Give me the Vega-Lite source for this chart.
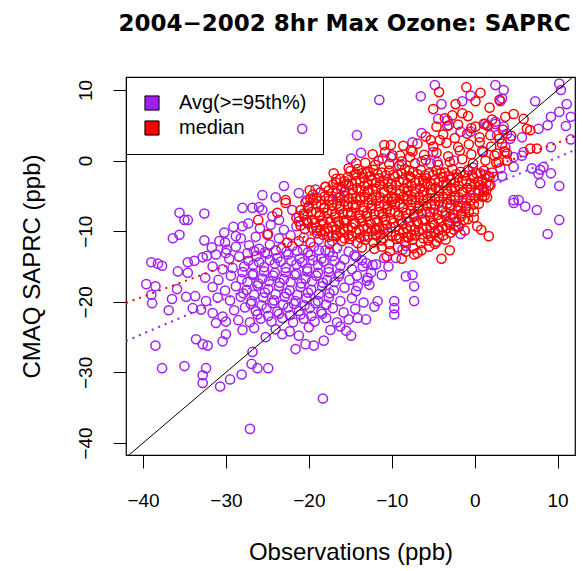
{
"$schema":"https://vega.github.io/schema/vega-lite/v6.json",
"autosize":{"type":"none"},
"padding":{"left":126,"top":77,"right":8,"bottom":116},
"width":449,"height":378,
"background":"white",
"title":{"text":"2004−2002 8hr Max Ozone: SAPRC","font":"DejaVu Sans","fontSize":23,"fontWeight":"bold","anchor":"middle","baseline":"alphabetic","offset":23,"dx":-6,"color":"black"},
"config":{"view":{"stroke":"black","strokeWidth":1.2}},
"resolve":{"scale":{"color":"independent","fill":"independent"}},
"datasets":{
"keys":[{"g":"p"},{"g":"r"}],
"pts":[
{"g":"p","o":-35.6,"m":-7.4},{"g":"p","o":-35.0,"m":-8.4},{"g":"p","o":-34.6,"m":-8.4},{"g":"p","o":-32.6,"m":-7.5},{"g":"p","o":-35.6,"m":-10.5},{"g":"p","o":-36.4,"m":-11.0},{"g":"p","o":-32.6,"m":-11.3},{"g":"p","o":-39.0,"m":-14.4},{"g":"p","o":-38.2,"m":-14.6},{"g":"p","o":-37.7,"m":-14.9},{"g":"p","o":-34.6,"m":-14.4},{"g":"p","o":-33.8,"m":-14.2},{"g":"p","o":-32.8,"m":-13.7},{"g":"p","o":-35.8,"m":-15.7},{"g":"p","o":-34.6,"m":-15.9},{"g":"p","o":-39.6,"m":-17.5},{"g":"p","o":-38.5,"m":-17.8},{"g":"p","o":-39.0,"m":-19.0},{"g":"p","o":-38.9,"m":-20.2},{"g":"p","o":-34.8,"m":-19.3},{"g":"p","o":-33.7,"m":-19.2},{"g":"p","o":-32.4,"m":-19.9},{"g":"p","o":-36.9,"m":-21.2},{"g":"p","o":-34.0,"m":-20.9},{"g":"p","o":-33.0,"m":-21.1},{"g":"p","o":-31.6,"m":-21.6},{"g":"p","o":-30.4,"m":-22.1},{"g":"p","o":-31.2,"m":-23.0},{"g":"p","o":-30.0,"m":-22.8},{"g":"p","o":-31.6,"m":-15.0},{"g":"p","o":-30.4,"m":-15.4},{"g":"p","o":-31.2,"m":-13.3},{"g":"p","o":-30.0,"m":-13.1},{"g":"p","o":-30.8,"m":-11.4},{"g":"p","o":-30.1,"m":-11.6},{"g":"p","o":-38.5,"m":-26.2},{"g":"p","o":-37.7,"m":-29.4},{"g":"p","o":-35.0,"m":-29.1},{"g":"p","o":-32.4,"m":-29.4},{"g":"p","o":-32.8,"m":-30.4},{"g":"p","o":-32.8,"m":-31.5},{"g":"p","o":-30.7,"m":-32.0},{"g":"p","o":-29.5,"m":-31.0},{"g":"p","o":-33.6,"m":-25.3},{"g":"p","o":-32.8,"m":-26.0},{"g":"p","o":-32.2,"m":-26.2},{"g":"p","o":-30.4,"m":-25.6},{"g":"p","o":-30.0,"m":-24.6},{"g":"p","o":-35.9,"m":-18.2},{"g":"p","o":-36.5,"m":-19.6},
{"g":"p","o":-28.0,"m":-6.7},{"g":"p","o":-26.8,"m":-6.7},{"g":"p","o":-26.0,"m":-6.6},{"g":"p","o":-28.0,"m":-9.3},{"g":"p","o":-28.8,"m":-10.7},{"g":"p","o":-28.2,"m":-11.0},{"g":"p","o":-28.8,"m":-12.2},{"g":"p","o":-28.4,"m":-13.6},{"g":"p","o":-27.4,"m":-13.1},{"g":"p","o":-29.2,"m":-15.2},{"g":"p","o":-27.8,"m":-15.0},{"g":"p","o":-25.6,"m":-7.0},{"g":"p","o":-24.4,"m":-7.9},{"g":"p","o":-23.6,"m":-8.4},{"g":"p","o":-22.0,"m":-7.0},{"g":"p","o":-21.2,"m":-7.9},{"g":"p","o":-25.6,"m":-4.9},{"g":"p","o":-24.0,"m":-5.2},{"g":"p","o":-23.0,"m":-3.6},{"g":"p","o":-21.2,"m":-4.6},{"g":"p","o":-19.2,"m":-4.1},{"g":"p","o":-20.2,"m":-5.6},{"g":"p","o":-26.8,"m":-27.1},{"g":"p","o":-26.9,"m":-28.8},{"g":"p","o":-26.2,"m":-29.4},{"g":"p","o":-24.9,"m":-29.4},{"g":"p","o":-27.1,"m":-38.0},{"g":"p","o":-28.1,"m":-30.3},{"g":"p","o":-25.2,"m":-25.0},{"g":"p","o":-23.2,"m":-24.6},{"g":"p","o":-21.2,"m":-24.8},{"g":"p","o":-21.6,"m":-26.7},{"g":"p","o":-20.4,"m":-26.0},{"g":"p","o":-19.4,"m":-26.2},{"g":"p","o":-18.2,"m":-25.5},{"g":"p","o":-18.3,"m":-33.7},{"g":"p","o":-15.5,"m":-24.1},{"g":"p","o":-14.9,"m":-24.8},{"g":"p","o":-16.0,"m":-3.7},{"g":"p","o":-16.4,"m":-5.2},{"g":"p","o":-20.8,"m":4.5},
{"g":"p","o":-29.1,"m":-9.4},{"g":"p","o":-27.3,"m":-8.9},{"g":"p","o":-25.9,"m":-9.6},{"g":"p","o":-24.6,"m":-9.1},{"g":"p","o":-23.0,"m":-9.8},{"g":"p","o":-21.5,"m":-9.3},{"g":"p","o":-20.2,"m":-8.7},{"g":"p","o":-19.0,"m":-9.9},
{"g":"p","o":-30.2,"m":-10.2},{"g":"p","o":-26.4,"m":-10.8},{"g":"p","o":-24.9,"m":-10.4},{"g":"p","o":-23.6,"m":-11.0},{"g":"p","o":-22.2,"m":-10.6},{"g":"p","o":-20.6,"m":-10.9},{"g":"p","o":-18.8,"m":-11.2},{"g":"p","o":-17.2,"m":-11.4},
{"g":"p","o":-31.7,"m":-12.3},{"g":"p","o":-29.9,"m":-12.6},{"g":"p","o":-27.2,"m":-12.0},{"g":"p","o":-26.0,"m":-12.5},{"g":"p","o":-24.7,"m":-11.9},{"g":"p","o":-23.3,"m":-12.4},{"g":"p","o":-22.0,"m":-12.1},{"g":"p","o":-20.7,"m":-12.6},{"g":"p","o":-19.4,"m":-12.2},{"g":"p","o":-18.0,"m":-12.7},{"g":"p","o":-16.6,"m":-12.4},{"g":"p","o":-15.2,"m":-12.9},
{"g":"p","o":-32.3,"m":-13.5},{"g":"p","o":-29.6,"m":-13.9},{"g":"p","o":-26.3,"m":-13.5},{"g":"p","o":-25.0,"m":-13.2},{"g":"p","o":-23.8,"m":-13.8},{"g":"p","o":-22.5,"m":-13.3},{"g":"p","o":-21.1,"m":-13.9},{"g":"p","o":-19.8,"m":-13.4},{"g":"p","o":-18.5,"m":-13.9},{"g":"p","o":-17.1,"m":-13.5},{"g":"p","o":-15.7,"m":-14.0},{"g":"p","o":-14.3,"m":-13.6},
{"g":"p","o":-26.7,"m":-14.8},{"g":"p","o":-25.4,"m":-15.1},{"g":"p","o":-24.1,"m":-14.6},{"g":"p","o":-22.8,"m":-15.2},{"g":"p","o":-21.5,"m":-14.7},{"g":"p","o":-20.2,"m":-15.3},{"g":"p","o":-18.9,"m":-14.8},{"g":"p","o":-17.6,"m":-15.3},{"g":"p","o":-16.2,"m":-14.9},{"g":"p","o":-14.8,"m":-15.4},{"g":"p","o":-13.5,"m":-15.0},
{"g":"p","o":-32.5,"m":-16.6},{"g":"p","o":-30.9,"m":-16.9},{"g":"p","o":-29.4,"m":-16.3},{"g":"p","o":-28.1,"m":-16.8},{"g":"p","o":-26.8,"m":-16.2},{"g":"p","o":-25.6,"m":-16.7},{"g":"p","o":-24.3,"m":-16.3},{"g":"p","o":-23.0,"m":-16.8},{"g":"p","o":-21.7,"m":-16.2},{"g":"p","o":-20.4,"m":-16.7},{"g":"p","o":-19.1,"m":-16.3},{"g":"p","o":-17.8,"m":-16.9},{"g":"p","o":-16.4,"m":-16.4},{"g":"p","o":-15.1,"m":-16.9},{"g":"p","o":-12.9,"m":-16.6},
{"g":"p","o":-31.6,"m":-17.9},{"g":"p","o":-30.1,"m":-18.4},{"g":"p","o":-28.8,"m":-17.8},{"g":"p","o":-27.5,"m":-18.3},{"g":"p","o":-26.2,"m":-17.7},{"g":"p","o":-24.9,"m":-18.2},{"g":"p","o":-23.6,"m":-17.8},{"g":"p","o":-22.3,"m":-18.4},{"g":"p","o":-21.0,"m":-17.9},{"g":"p","o":-19.7,"m":-18.3},{"g":"p","o":-18.4,"m":-17.8},{"g":"p","o":-17.0,"m":-18.4},{"g":"p","o":-15.7,"m":-18.0},{"g":"p","o":-14.3,"m":-18.5},
{"g":"p","o":-31.0,"m":-19.4},{"g":"p","o":-29.5,"m":-19.8},{"g":"p","o":-28.2,"m":-19.3},{"g":"p","o":-26.9,"m":-19.9},{"g":"p","o":-25.5,"m":-19.4},{"g":"p","o":-24.2,"m":-19.8},{"g":"p","o":-22.9,"m":-19.3},{"g":"p","o":-21.6,"m":-19.9},{"g":"p","o":-20.3,"m":-19.5},{"g":"p","o":-18.9,"m":-19.9},{"g":"p","o":-17.6,"m":-19.4},{"g":"p","o":-16.2,"m":-19.9},{"g":"p","o":-14.8,"m":-19.5},{"g":"p","o":-13.4,"m":-20.1},
{"g":"p","o":-29.0,"m":-21.2},{"g":"p","o":-27.7,"m":-20.8},{"g":"p","o":-26.4,"m":-21.3},{"g":"p","o":-25.1,"m":-20.9},{"g":"p","o":-23.8,"m":-21.4},{"g":"p","o":-22.5,"m":-20.8},{"g":"p","o":-21.2,"m":-21.3},{"g":"p","o":-19.9,"m":-20.9},{"g":"p","o":-18.5,"m":-21.4},{"g":"p","o":-17.1,"m":-20.9},{"g":"p","o":-15.8,"m":-21.5},{"g":"p","o":-14.4,"m":-21.0},
{"g":"p","o":-28.5,"m":-22.6},{"g":"p","o":-27.1,"m":-22.9},{"g":"p","o":-25.8,"m":-22.4},{"g":"p","o":-24.5,"m":-22.8},{"g":"p","o":-23.2,"m":-22.3},{"g":"p","o":-21.9,"m":-22.9},{"g":"p","o":-20.6,"m":-22.4},{"g":"p","o":-19.3,"m":-22.8},{"g":"p","o":-17.9,"m":-22.3},{"g":"p","o":-16.6,"m":-22.9},{"g":"p","o":-15.2,"m":-22.5},
{"g":"p","o":-28.0,"m":-24.0},{"g":"p","o":-26.6,"m":-23.7},{"g":"p","o":-24.0,"m":-23.9},{"g":"p","o":-22.3,"m":-24.2},{"g":"p","o":-20.0,"m":-23.6},{"g":"p","o":-17.4,"m":-24.0},{"g":"p","o":-16.2,"m":-23.5},
{"g":"p","o":-26.6,"m":-12.8},{"g":"p","o":-25.3,"m":-13.0},{"g":"p","o":-24.0,"m":-12.7},{"g":"p","o":-22.7,"m":-12.9},{"g":"p","o":-21.4,"m":-12.8},{"g":"p","o":-20.1,"m":-13.0},{"g":"p","o":-18.8,"m":-12.7},{"g":"p","o":-17.5,"m":-12.9},
{"g":"p","o":-27.3,"m":-14.2},{"g":"p","o":-26.0,"m":-14.4},{"g":"p","o":-24.7,"m":-14.1},{"g":"p","o":-23.4,"m":-14.3},{"g":"p","o":-22.1,"m":-14.2},{"g":"p","o":-20.8,"m":-14.4},{"g":"p","o":-19.5,"m":-14.1},{"g":"p","o":-18.2,"m":-14.3},{"g":"p","o":-16.9,"m":-14.2},
{"g":"p","o":-28.0,"m":-15.8},{"g":"p","o":-26.7,"m":-16.0},{"g":"p","o":-25.4,"m":-15.7},{"g":"p","o":-24.1,"m":-15.9},{"g":"p","o":-22.8,"m":-15.8},{"g":"p","o":-21.5,"m":-16.0},{"g":"p","o":-20.2,"m":-15.7},{"g":"p","o":-18.9,"m":-15.9},{"g":"p","o":-17.6,"m":-15.8},{"g":"p","o":-16.3,"m":-16.0},
{"g":"p","o":-27.4,"m":-17.2},{"g":"p","o":-26.1,"m":-17.4},{"g":"p","o":-24.8,"m":-17.1},{"g":"p","o":-23.5,"m":-17.3},{"g":"p","o":-22.2,"m":-17.2},{"g":"p","o":-20.9,"m":-17.4},{"g":"p","o":-19.6,"m":-17.1},{"g":"p","o":-18.3,"m":-17.3},{"g":"p","o":-16.9,"m":-17.2},
{"g":"p","o":-27.9,"m":-18.8},{"g":"p","o":-26.6,"m":-19.0},{"g":"p","o":-25.3,"m":-18.7},{"g":"p","o":-24.0,"m":-18.9},{"g":"p","o":-22.7,"m":-18.8},{"g":"p","o":-21.4,"m":-19.0},{"g":"p","o":-20.1,"m":-18.7},{"g":"p","o":-18.8,"m":-18.9},{"g":"p","o":-17.5,"m":-18.8},
{"g":"p","o":-27.0,"m":-20.3},{"g":"p","o":-25.7,"m":-20.5},{"g":"p","o":-24.4,"m":-20.2},{"g":"p","o":-23.1,"m":-20.4},{"g":"p","o":-21.8,"m":-20.3},{"g":"p","o":-20.5,"m":-20.5},{"g":"p","o":-19.2,"m":-20.2},{"g":"p","o":-17.9,"m":-20.4},
{"g":"p","o":-26.2,"m":-21.8},{"g":"p","o":-24.9,"m":-22.0},{"g":"p","o":-23.6,"m":-21.7},{"g":"p","o":-22.3,"m":-21.9},{"g":"p","o":-21.0,"m":-21.8},{"g":"p","o":-19.7,"m":-22.0},{"g":"p","o":-18.4,"m":-21.7},
{"g":"p","o":-8.3,"m":-16.4},{"g":"p","o":-7.5,"m":-16.2},{"g":"p","o":-7.3,"m":-17.8},{"g":"p","o":-7.3,"m":-19.9},{"g":"p","o":-9.7,"m":-19.9},{"g":"p","o":-9.7,"m":-20.9},{"g":"p","o":-9.7,"m":-21.8},{"g":"p","o":-12.1,"m":-20.7},{"g":"p","o":-11.7,"m":-19.9},{"g":"p","o":-14.1,"m":-22.3},{"g":"p","o":-13.1,"m":-22.5},{"g":"p","o":-12.7,"m":-17.6},{"g":"p","o":-14.1,"m":-17.8},{"g":"p","o":-12.5,"m":-15.9},{"g":"p","o":-11.9,"m":-14.7},{"g":"p","o":-13.1,"m":-14.5},{"g":"p","o":-9.5,"m":-13.8},{"g":"p","o":-10.9,"m":-13.8},{"g":"p","o":-8.7,"m":-12.6},{"g":"p","o":-8.3,"m":-12.1},{"g":"p","o":-14.5,"m":-13.4},{"g":"p","o":-13.6,"m":-14.1},{"g":"p","o":-12.3,"m":-14.8},{"g":"p","o":-14.2,"m":-16.3},{"g":"p","o":-13.0,"m":-17.0},{"g":"p","o":-11.2,"m":-16.2},{"g":"p","o":-10.4,"m":-15.0},{"g":"p","o":-4.3,"m":-9.8},{"g":"p","o":-4.9,"m":-10.3},{"g":"p","o":-2.3,"m":-9.3},{"g":"p","o":-1.9,"m":-9.4},{"g":"p","o":-1.7,"m":-10.4},{"g":"p","o":-2.9,"m":-8.1},{"g":"p","o":-1.7,"m":-6.7},{"g":"p","o":4.7,"m":-6.0},{"g":"p","o":6.1,"m":-6.5},{"g":"p","o":7.5,"m":-7.0},{"g":"p","o":10.2,"m":-8.4},{"g":"p","o":8.8,"m":-10.4},
{"g":"p","o":-11.5,"m":8.6},{"g":"p","o":-6.5,"m":9.1},{"g":"p","o":-4.8,"m":10.7},{"g":"p","o":-4.0,"m":8.0},{"g":"p","o":-1.5,"m":8.4},{"g":"p","o":-0.5,"m":9.2},{"g":"p","o":2.5,"m":10.7},{"g":"p","o":3.5,"m":10.0},{"g":"p","o":3.1,"m":8.4},{"g":"p","o":3.3,"m":8.8},{"g":"p","o":7.3,"m":8.4},{"g":"p","o":10.2,"m":10.9},{"g":"p","o":10.4,"m":10.0},{"g":"p","o":11.1,"m":8.0},{"g":"p","o":10.2,"m":6.9},{"g":"p","o":9.2,"m":6.2},{"g":"p","o":11.6,"m":6.2},{"g":"p","o":8.8,"m":5.0},{"g":"p","o":7.7,"m":4.5},{"g":"p","o":11.0,"m":4.9},{"g":"p","o":5.7,"m":3.3},{"g":"p","o":9.2,"m":1.9},{"g":"p","o":11.6,"m":3.0},{"g":"p","o":-14.2,"m":3.6},{"g":"p","o":-6.4,"m":3.9},{"g":"p","o":-4.4,"m":5.9},{"g":"p","o":-3.3,"m":5.7},{"g":"p","o":-3.1,"m":5.0},{"g":"p","o":1.3,"m":5.2},{"g":"p","o":2.5,"m":5.2},{"g":"p","o":3.5,"m":4.8},{"g":"p","o":2.7,"m":3.6},{"g":"p","o":3.9,"m":3.8},{"g":"p","o":4.3,"m":3.1},{"g":"p","o":3.7,"m":1.9},{"g":"p","o":4.7,"m":0.5},{"g":"p","o":5.7,"m":0.7},{"g":"p","o":5.9,"m":1.2},{"g":"p","o":6.9,"m":-1.1},{"g":"p","o":7.9,"m":-1.3},{"g":"p","o":8.3,"m":-0.9},{"g":"p","o":7.7,"m":-1.9},{"g":"p","o":9.2,"m":-1.8},{"g":"p","o":7.9,"m":-3.2},{"g":"p","o":10.2,"m":-3.6},{"g":"p","o":4.7,"m":-5.6},{"g":"p","o":5.3,"m":-5.6},{"g":"p","o":2.3,"m":-2.3},{"g":"p","o":3.3,"m":-2.2},{"g":"p","o":4.7,"m":-0.9},{"g":"p","o":3.1,"m":-1.1},{"g":"p","o":-13.7,"m":1.1},{"g":"p","o":-14.9,"m":0.3},{"g":"p","o":-11.1,"m":0.3},{"g":"p","o":-10.1,"m":0.5},{"g":"p","o":-6.4,"m":-0.1},{"g":"p","o":-5.3,"m":-0.4},{"g":"p","o":-4.5,"m":-0.2},{"g":"p","o":-1.7,"m":4.1},{"g":"p","o":-0.5,"m":4.1},{"g":"p","o":1.5,"m":5.0},{"g":"p","o":2.5,"m":5.5},{"g":"p","o":-7.5,"m":2.6},{"g":"p","o":-5.0,"m":1.2},{"g":"p","o":-2.5,"m":0.0},{"g":"p","o":-0.2,"m":-1.0},{"g":"p","o":1.3,"m":-2.0},{"g":"p","o":-8.8,"m":-0.6},{"g":"p","o":-3.8,"m":-2.4},{"g":"p","o":0.9,"m":1.4},
{"g":"r","o":-22.8,"m":-6.0},{"g":"r","o":-23.8,"m":-7.4},{"g":"r","o":-26.1,"m":-8.4},{"g":"r","o":-25.0,"m":-10.5},{"g":"r","o":-22.6,"m":-11.6},{"g":"r","o":-21.2,"m":-11.4},{"g":"r","o":-19.8,"m":-11.6},{"g":"r","o":-18.3,"m":-10.5},{"g":"r","o":-16.7,"m":-10.7},{"g":"r","o":-22.8,"m":-5.6},{"g":"r","o":-18.0,"m":-3.7},{"g":"r","o":-16.7,"m":-2.6},{"g":"r","o":-15.5,"m":-3.3},{"g":"r","o":-15.2,"m":-1.1},{"g":"r","o":-19.8,"m":-5.4},{"g":"r","o":-0.1,"m":-8.1},{"g":"r","o":0.3,"m":-9.3},{"g":"r","o":0.8,"m":-9.8},{"g":"r","o":1.7,"m":-10.7},{"g":"r","o":-3.0,"m":-12.7},{"g":"r","o":-4.0,"m":-13.9},{"g":"r","o":-4.8,"m":-11.8},{"g":"r","o":-7.3,"m":-13.3},{"g":"r","o":-6.9,"m":-13.1},{"g":"r","o":-4.3,"m":9.7},{"g":"r","o":0.1,"m":8.4},{"g":"r","o":0.7,"m":9.6},{"g":"r","o":-2.7,"m":6.4},{"g":"r","o":-1.5,"m":6.7},{"g":"r","o":-3.3,"m":4.9},{"g":"r","o":4.7,"m":6.6},{"g":"r","o":5.9,"m":5.9},{"g":"r","o":6.3,"m":4.5},{"g":"r","o":6.7,"m":4.3},{"g":"r","o":6.7,"m":1.7},{"g":"r","o":7.5,"m":1.7},{"g":"r","o":-10.9,"m":2.2},{"g":"r","o":-10.1,"m":2.2},{"g":"r","o":-9.9,"m":0.75},{"g":"r","o":-7.7,"m":1.5},{"g":"r","o":-7.8,"m":0.5},{"g":"r","o":-5.3,"m":2.9},{"g":"r","o":-4.2,"m":2.9},{"g":"r","o":0.1,"m":4.8},{"g":"r","o":1.1,"m":5.2},{"g":"r","o":2.7,"m":1.0},{"g":"r","o":3.9,"m":1.0},{"g":"r","o":2.9,"m":-0.2},{"g":"r","o":3.9,"m":0.0},{"g":"r","o":0.7,"m":-3.5},{"g":"r","o":1.1,"m":-4.4},{"g":"r","o":1.9,"m":-3.5},{"g":"r","o":1.5,"m":-5.2},{"g":"r","o":-14.3,"m":-0.4},{"g":"r","o":-14.3,"m":-1.9},{"g":"r","o":-12.9,"m":-1.6},{"g":"r","o":-9.1,"m":-0.7},{"g":"r","o":-7.9,"m":-1.4},{"g":"r","o":-10.6,"m":-13.6},{"g":"r","o":-8.8,"m":-13.9},
{"g":"r","o":-12.1,"m":-12.5},{"g":"r","o":-11.2,"m":-12.2},{"g":"r","o":-10.2,"m":-12.8},{"g":"r","o":-9.3,"m":-12.3},{"g":"r","o":-8.3,"m":-12.9},{"g":"r","o":-7.4,"m":-12.4},{"g":"r","o":-6.4,"m":-12.7},{"g":"r","o":-5.5,"m":-12.2},
{"g":"r","o":-16.0,"m":-11.4},{"g":"r","o":-15.1,"m":-11.1},{"g":"r","o":-14.1,"m":-11.7},{"g":"r","o":-13.2,"m":-11.2},{"g":"r","o":-12.2,"m":-11.6},{"g":"r","o":-11.3,"m":-11.3},{"g":"r","o":-10.3,"m":-11.8},{"g":"r","o":-9.4,"m":-11.1},{"g":"r","o":-8.4,"m":-11.5},{"g":"r","o":-7.5,"m":-11.2},{"g":"r","o":-6.5,"m":-11.7},{"g":"r","o":-5.6,"m":-11.3},{"g":"r","o":-4.6,"m":-11.5},
{"g":"r","o":-19.0,"m":-10.3},{"g":"r","o":-18.1,"m":-10.0},{"g":"r","o":-17.1,"m":-10.6},{"g":"r","o":-16.2,"m":-10.1},{"g":"r","o":-15.2,"m":-10.5},{"g":"r","o":-14.3,"m":-10.2},{"g":"r","o":-13.3,"m":-10.7},{"g":"r","o":-12.4,"m":-10.0},{"g":"r","o":-11.4,"m":-10.4},{"g":"r","o":-10.5,"m":-10.1},{"g":"r","o":-9.5,"m":-10.6},{"g":"r","o":-8.6,"m":-10.2},{"g":"r","o":-7.6,"m":-10.5},{"g":"r","o":-6.7,"m":-10.0},{"g":"r","o":-5.7,"m":-10.4},{"g":"r","o":-4.8,"m":-10.1},{"g":"r","o":-3.8,"m":-10.6},{"g":"r","o":-2.9,"m":-10.2},
{"g":"r","o":-21.0,"m":-9.2},{"g":"r","o":-20.1,"m":-8.9},{"g":"r","o":-19.1,"m":-9.5},{"g":"r","o":-18.2,"m":-9.0},{"g":"r","o":-17.2,"m":-9.4},{"g":"r","o":-16.3,"m":-9.1},{"g":"r","o":-15.3,"m":-9.6},{"g":"r","o":-14.4,"m":-8.9},{"g":"r","o":-13.4,"m":-9.3},{"g":"r","o":-12.5,"m":-9.0},{"g":"r","o":-11.5,"m":-9.5},{"g":"r","o":-10.6,"m":-9.1},{"g":"r","o":-9.6,"m":-9.4},{"g":"r","o":-8.7,"m":-8.9},{"g":"r","o":-7.7,"m":-9.3},{"g":"r","o":-6.8,"m":-9.0},{"g":"r","o":-5.8,"m":-9.5},{"g":"r","o":-4.9,"m":-9.1},{"g":"r","o":-3.9,"m":-9.4},{"g":"r","o":-3.0,"m":-9.0},{"g":"r","o":-2.0,"m":-9.3},
{"g":"r","o":-21.5,"m":-8.1},{"g":"r","o":-20.6,"m":-7.8},{"g":"r","o":-19.6,"m":-8.4},{"g":"r","o":-18.7,"m":-7.9},{"g":"r","o":-17.7,"m":-8.3},{"g":"r","o":-16.8,"m":-8.0},{"g":"r","o":-15.8,"m":-8.5},{"g":"r","o":-14.9,"m":-7.8},{"g":"r","o":-13.9,"m":-8.2},{"g":"r","o":-13.0,"m":-7.9},{"g":"r","o":-12.0,"m":-8.4},{"g":"r","o":-11.1,"m":-8.0},{"g":"r","o":-10.1,"m":-8.3},{"g":"r","o":-9.2,"m":-7.8},{"g":"r","o":-8.2,"m":-8.2},{"g":"r","o":-7.3,"m":-7.9},{"g":"r","o":-6.3,"m":-8.4},{"g":"r","o":-5.4,"m":-8.0},{"g":"r","o":-4.4,"m":-8.3},{"g":"r","o":-3.5,"m":-7.8},{"g":"r","o":-2.5,"m":-8.2},{"g":"r","o":-1.6,"m":-7.9},{"g":"r","o":-0.8,"m":-8.3},
{"g":"r","o":-21.0,"m":-7.0},{"g":"r","o":-20.1,"m":-6.7},{"g":"r","o":-19.1,"m":-7.3},{"g":"r","o":-18.2,"m":-6.8},{"g":"r","o":-17.2,"m":-7.2},{"g":"r","o":-16.3,"m":-6.9},{"g":"r","o":-15.3,"m":-7.4},{"g":"r","o":-14.4,"m":-6.7},{"g":"r","o":-13.4,"m":-7.1},{"g":"r","o":-12.5,"m":-6.8},{"g":"r","o":-11.5,"m":-7.3},{"g":"r","o":-10.6,"m":-6.9},{"g":"r","o":-9.6,"m":-7.2},{"g":"r","o":-8.7,"m":-6.7},{"g":"r","o":-7.7,"m":-7.1},{"g":"r","o":-6.8,"m":-6.8},{"g":"r","o":-5.8,"m":-7.3},{"g":"r","o":-4.9,"m":-6.9},{"g":"r","o":-3.9,"m":-7.2},{"g":"r","o":-3.0,"m":-6.7},{"g":"r","o":-2.0,"m":-7.1},{"g":"r","o":-1.1,"m":-6.8},{"g":"r","o":-0.1,"m":-7.2},
{"g":"r","o":-20.4,"m":-5.9},{"g":"r","o":-19.5,"m":-5.6},{"g":"r","o":-18.5,"m":-6.2},{"g":"r","o":-17.6,"m":-5.7},{"g":"r","o":-16.6,"m":-6.1},{"g":"r","o":-15.7,"m":-5.8},{"g":"r","o":-14.7,"m":-6.3},{"g":"r","o":-13.8,"m":-5.6},{"g":"r","o":-12.8,"m":-6.0},{"g":"r","o":-11.9,"m":-5.7},{"g":"r","o":-10.9,"m":-6.2},{"g":"r","o":-10.0,"m":-5.8},{"g":"r","o":-9.0,"m":-6.1},{"g":"r","o":-8.1,"m":-5.6},{"g":"r","o":-7.1,"m":-6.0},{"g":"r","o":-6.2,"m":-5.7},{"g":"r","o":-5.2,"m":-6.2},{"g":"r","o":-4.3,"m":-5.8},{"g":"r","o":-3.3,"m":-6.1},{"g":"r","o":-2.4,"m":-5.6},{"g":"r","o":-1.4,"m":-6.0},{"g":"r","o":-0.5,"m":-5.7},{"g":"r","o":0.5,"m":-6.1},
{"g":"r","o":-19.5,"m":-4.8},{"g":"r","o":-18.6,"m":-4.5},{"g":"r","o":-17.6,"m":-5.1},{"g":"r","o":-16.7,"m":-4.6},{"g":"r","o":-15.7,"m":-5.0},{"g":"r","o":-14.8,"m":-4.7},{"g":"r","o":-13.8,"m":-5.2},{"g":"r","o":-12.9,"m":-4.5},{"g":"r","o":-11.9,"m":-4.9},{"g":"r","o":-11.0,"m":-4.6},{"g":"r","o":-10.0,"m":-5.1},{"g":"r","o":-9.1,"m":-4.7},{"g":"r","o":-8.1,"m":-5.0},{"g":"r","o":-7.2,"m":-4.5},{"g":"r","o":-6.2,"m":-4.9},{"g":"r","o":-5.3,"m":-4.6},{"g":"r","o":-4.3,"m":-5.1},{"g":"r","o":-3.4,"m":-4.7},{"g":"r","o":-2.4,"m":-5.0},{"g":"r","o":-1.5,"m":-4.5},{"g":"r","o":-0.5,"m":-4.9},{"g":"r","o":0.4,"m":-4.6},{"g":"r","o":1.2,"m":-5.0},
{"g":"r","o":-18.0,"m":-3.7},{"g":"r","o":-17.1,"m":-3.4},{"g":"r","o":-16.1,"m":-4.0},{"g":"r","o":-15.2,"m":-3.5},{"g":"r","o":-14.2,"m":-3.9},{"g":"r","o":-13.3,"m":-3.6},{"g":"r","o":-12.3,"m":-4.1},{"g":"r","o":-11.4,"m":-3.4},{"g":"r","o":-10.4,"m":-3.8},{"g":"r","o":-9.5,"m":-3.5},{"g":"r","o":-8.5,"m":-4.0},{"g":"r","o":-7.6,"m":-3.6},{"g":"r","o":-6.6,"m":-3.9},{"g":"r","o":-5.7,"m":-3.4},{"g":"r","o":-4.7,"m":-3.8},{"g":"r","o":-3.8,"m":-3.5},{"g":"r","o":-2.8,"m":-4.0},{"g":"r","o":-1.9,"m":-3.6},{"g":"r","o":-0.9,"m":-3.9},{"g":"r","o":0.0,"m":-3.4},{"g":"r","o":1.0,"m":-3.8},{"g":"r","o":1.7,"m":-3.5},
{"g":"r","o":-16.2,"m":-2.6},{"g":"r","o":-15.3,"m":-2.3},{"g":"r","o":-14.3,"m":-2.9},{"g":"r","o":-13.4,"m":-2.4},{"g":"r","o":-12.4,"m":-2.8},{"g":"r","o":-11.5,"m":-2.5},{"g":"r","o":-10.5,"m":-3.0},{"g":"r","o":-9.6,"m":-2.3},{"g":"r","o":-8.6,"m":-2.7},{"g":"r","o":-7.7,"m":-2.4},{"g":"r","o":-6.7,"m":-2.9},{"g":"r","o":-5.8,"m":-2.5},{"g":"r","o":-4.8,"m":-2.8},{"g":"r","o":-3.9,"m":-2.3},{"g":"r","o":-2.9,"m":-2.7},{"g":"r","o":-2.0,"m":-2.4},{"g":"r","o":-1.0,"m":-2.9},{"g":"r","o":-0.1,"m":-2.5},{"g":"r","o":0.9,"m":-2.8},{"g":"r","o":1.8,"m":-2.3},
{"g":"r","o":-15.0,"m":-1.5},{"g":"r","o":-14.1,"m":-1.2},{"g":"r","o":-13.1,"m":-1.8},{"g":"r","o":-12.2,"m":-1.3},{"g":"r","o":-11.2,"m":-1.7},{"g":"r","o":-10.3,"m":-1.4},{"g":"r","o":-9.3,"m":-1.9},{"g":"r","o":-8.4,"m":-1.2},{"g":"r","o":-7.4,"m":-1.6},{"g":"r","o":-6.5,"m":-1.3},{"g":"r","o":-5.5,"m":-1.8},{"g":"r","o":-4.6,"m":-1.4},{"g":"r","o":-3.6,"m":-1.7},{"g":"r","o":-2.7,"m":-1.2},{"g":"r","o":-1.7,"m":-1.6},{"g":"r","o":-0.8,"m":-1.3},{"g":"r","o":0.2,"m":-1.8},{"g":"r","o":1.1,"m":-1.4},{"g":"r","o":2.1,"m":-1.7},
{"g":"r","o":-17.6,"m":-10.8},{"g":"r","o":-16.7,"m":-10.6},{"g":"r","o":-15.7,"m":-11.0},{"g":"r","o":-14.8,"m":-10.7},{"g":"r","o":-13.8,"m":-10.9},{"g":"r","o":-12.9,"m":-10.8},{"g":"r","o":-11.9,"m":-10.6},{"g":"r","o":-11.0,"m":-11.0},{"g":"r","o":-10.0,"m":-10.7},{"g":"r","o":-9.1,"m":-10.9},{"g":"r","o":-8.1,"m":-10.8},{"g":"r","o":-7.2,"m":-10.6},{"g":"r","o":-6.2,"m":-11.0},{"g":"r","o":-5.3,"m":-10.7},{"g":"r","o":-4.3,"m":-10.9},
{"g":"r","o":-20.5,"m":-9.7},{"g":"r","o":-19.6,"m":-9.5},{"g":"r","o":-18.6,"m":-9.9},{"g":"r","o":-17.7,"m":-9.6},{"g":"r","o":-16.7,"m":-9.8},{"g":"r","o":-15.8,"m":-9.7},{"g":"r","o":-14.8,"m":-9.5},{"g":"r","o":-13.9,"m":-9.9},{"g":"r","o":-12.9,"m":-9.6},{"g":"r","o":-12.0,"m":-9.8},{"g":"r","o":-11.0,"m":-9.7},{"g":"r","o":-10.1,"m":-9.5},{"g":"r","o":-9.1,"m":-9.9},{"g":"r","o":-8.2,"m":-9.6},{"g":"r","o":-7.2,"m":-9.8},{"g":"r","o":-6.3,"m":-9.7},{"g":"r","o":-5.3,"m":-9.5},{"g":"r","o":-4.4,"m":-9.9},{"g":"r","o":-3.4,"m":-9.6},{"g":"r","o":-2.5,"m":-9.8},
{"g":"r","o":-21.2,"m":-8.6},{"g":"r","o":-20.3,"m":-8.4},{"g":"r","o":-19.3,"m":-8.8},{"g":"r","o":-18.4,"m":-8.5},{"g":"r","o":-17.4,"m":-8.7},{"g":"r","o":-16.5,"m":-8.6},{"g":"r","o":-15.5,"m":-8.4},{"g":"r","o":-14.6,"m":-8.8},{"g":"r","o":-13.6,"m":-8.5},{"g":"r","o":-12.7,"m":-8.7},{"g":"r","o":-11.7,"m":-8.6},{"g":"r","o":-10.8,"m":-8.4},{"g":"r","o":-9.8,"m":-8.8},{"g":"r","o":-8.9,"m":-8.5},{"g":"r","o":-7.9,"m":-8.7},{"g":"r","o":-7.0,"m":-8.6},{"g":"r","o":-6.0,"m":-8.4},{"g":"r","o":-5.1,"m":-8.8},{"g":"r","o":-4.1,"m":-8.5},{"g":"r","o":-3.2,"m":-8.7},{"g":"r","o":-2.2,"m":-8.6},{"g":"r","o":-1.3,"m":-8.4},
{"g":"r","o":-20.6,"m":-7.5},{"g":"r","o":-19.7,"m":-7.3},{"g":"r","o":-18.7,"m":-7.7},{"g":"r","o":-17.8,"m":-7.4},{"g":"r","o":-16.8,"m":-7.6},{"g":"r","o":-15.9,"m":-7.5},{"g":"r","o":-14.9,"m":-7.3},{"g":"r","o":-14.0,"m":-7.7},{"g":"r","o":-13.0,"m":-7.4},{"g":"r","o":-12.1,"m":-7.6},{"g":"r","o":-11.1,"m":-7.5},{"g":"r","o":-10.2,"m":-7.3},{"g":"r","o":-9.2,"m":-7.7},{"g":"r","o":-8.3,"m":-7.4},{"g":"r","o":-7.3,"m":-7.6},{"g":"r","o":-6.4,"m":-7.5},{"g":"r","o":-5.4,"m":-7.3},{"g":"r","o":-4.5,"m":-7.7},{"g":"r","o":-3.5,"m":-7.4},{"g":"r","o":-2.6,"m":-7.6},{"g":"r","o":-1.6,"m":-7.5},{"g":"r","o":-0.7,"m":-7.3},
{"g":"r","o":-20.0,"m":-6.4},{"g":"r","o":-19.1,"m":-6.2},{"g":"r","o":-18.1,"m":-6.6},{"g":"r","o":-17.2,"m":-6.3},{"g":"r","o":-16.2,"m":-6.5},{"g":"r","o":-15.3,"m":-6.4},{"g":"r","o":-14.3,"m":-6.2},{"g":"r","o":-13.4,"m":-6.6},{"g":"r","o":-12.4,"m":-6.3},{"g":"r","o":-11.5,"m":-6.5},{"g":"r","o":-10.5,"m":-6.4},{"g":"r","o":-9.6,"m":-6.2},{"g":"r","o":-8.6,"m":-6.6},{"g":"r","o":-7.7,"m":-6.3},{"g":"r","o":-6.7,"m":-6.5},{"g":"r","o":-5.8,"m":-6.4},{"g":"r","o":-4.8,"m":-6.2},{"g":"r","o":-3.9,"m":-6.6},{"g":"r","o":-2.9,"m":-6.3},{"g":"r","o":-2.0,"m":-6.5},{"g":"r","o":-1.0,"m":-6.4},{"g":"r","o":-0.1,"m":-6.2},
{"g":"r","o":-19.0,"m":-5.3},{"g":"r","o":-18.1,"m":-5.1},{"g":"r","o":-17.1,"m":-5.5},{"g":"r","o":-16.2,"m":-5.2},{"g":"r","o":-15.2,"m":-5.4},{"g":"r","o":-14.3,"m":-5.3},{"g":"r","o":-13.3,"m":-5.1},{"g":"r","o":-12.4,"m":-5.5},{"g":"r","o":-11.4,"m":-5.2},{"g":"r","o":-10.5,"m":-5.4},{"g":"r","o":-9.5,"m":-5.3},{"g":"r","o":-8.6,"m":-5.1},{"g":"r","o":-7.6,"m":-5.5},{"g":"r","o":-6.7,"m":-5.2},{"g":"r","o":-5.7,"m":-5.4},{"g":"r","o":-4.8,"m":-5.3},{"g":"r","o":-3.8,"m":-5.1},{"g":"r","o":-2.9,"m":-5.5},{"g":"r","o":-1.9,"m":-5.2},{"g":"r","o":-1.0,"m":-5.4},{"g":"r","o":0.0,"m":-5.3},{"g":"r","o":0.9,"m":-5.1},
{"g":"r","o":-17.6,"m":-4.2},{"g":"r","o":-16.6,"m":-4.0},{"g":"r","o":-15.7,"m":-4.4},{"g":"r","o":-14.7,"m":-4.1},{"g":"r","o":-13.8,"m":-4.3},{"g":"r","o":-12.8,"m":-4.2},{"g":"r","o":-11.9,"m":-4.0},{"g":"r","o":-10.9,"m":-4.4},{"g":"r","o":-10.0,"m":-4.1},{"g":"r","o":-9.0,"m":-4.3},{"g":"r","o":-8.1,"m":-4.2},{"g":"r","o":-7.1,"m":-4.0},{"g":"r","o":-6.2,"m":-4.4},{"g":"r","o":-5.2,"m":-4.1},{"g":"r","o":-4.3,"m":-4.3},{"g":"r","o":-3.3,"m":-4.2},{"g":"r","o":-2.4,"m":-4.0},{"g":"r","o":-1.4,"m":-4.4},{"g":"r","o":-0.5,"m":-4.1},{"g":"r","o":0.5,"m":-4.3},{"g":"r","o":1.4,"m":-4.2},
{"g":"r","o":-16.7,"m":-3.1},{"g":"r","o":-15.7,"m":-2.9},{"g":"r","o":-14.8,"m":-3.3},{"g":"r","o":-13.8,"m":-3.0},{"g":"r","o":-12.9,"m":-3.2},{"g":"r","o":-11.9,"m":-3.1},{"g":"r","o":-11.0,"m":-2.9},{"g":"r","o":-10.0,"m":-3.3},{"g":"r","o":-9.1,"m":-3.0},{"g":"r","o":-8.1,"m":-3.2},{"g":"r","o":-7.2,"m":-3.1},{"g":"r","o":-6.2,"m":-2.9},{"g":"r","o":-5.3,"m":-3.3},{"g":"r","o":-4.3,"m":-3.0},{"g":"r","o":-3.4,"m":-3.2},{"g":"r","o":-2.4,"m":-3.1},{"g":"r","o":-1.5,"m":-2.9},{"g":"r","o":-0.5,"m":-3.3},{"g":"r","o":0.4,"m":-3.0},{"g":"r","o":1.4,"m":-3.2},
{"g":"r","o":-14.5,"m":-2.0},{"g":"r","o":-13.6,"m":-1.8},{"g":"r","o":-12.6,"m":-2.2},{"g":"r","o":-11.7,"m":-1.9},{"g":"r","o":-10.7,"m":-2.1},{"g":"r","o":-9.8,"m":-2.0},{"g":"r","o":-8.8,"m":-1.8},{"g":"r","o":-7.9,"m":-2.2},{"g":"r","o":-6.9,"m":-1.9},{"g":"r","o":-6.0,"m":-2.1},{"g":"r","o":-5.0,"m":-2.0},{"g":"r","o":-4.1,"m":-1.8},{"g":"r","o":-3.1,"m":-2.2},{"g":"r","o":-2.2,"m":-1.9},{"g":"r","o":-1.2,"m":-2.1},{"g":"r","o":-0.3,"m":-2.0},{"g":"r","o":0.7,"m":-1.8},{"g":"r","o":1.6,"m":-2.2},
{"g":"r","o":-13.2,"m":-0.3},{"g":"r","o":-11.6,"m":0.0},{"g":"r","o":-10.3,"m":-0.5},{"g":"r","o":-8.8,"m":-0.1},{"g":"r","o":-7.2,"m":-0.4},{"g":"r","o":-5.9,"m":0.1},{"g":"r","o":-4.4,"m":-0.6},{"g":"r","o":-3.0,"m":-0.2},{"g":"r","o":-1.5,"m":0.2},{"g":"r","o":-0.2,"m":-0.4},{"g":"r","o":1.3,"m":0.0},{"g":"r","o":2.6,"m":-0.3},
{"g":"r","o":-12.3,"m":0.9},{"g":"r","o":-10.8,"m":1.2},{"g":"r","o":-9.0,"m":0.7},{"g":"r","o":-7.5,"m":1.3},{"g":"r","o":-6.1,"m":0.8},{"g":"r","o":-4.6,"m":1.1},{"g":"r","o":-3.2,"m":0.6},{"g":"r","o":-1.8,"m":1.4},{"g":"r","o":-0.4,"m":0.9},{"g":"r","o":1.0,"m":1.2},{"g":"r","o":2.4,"m":0.7},{"g":"r","o":3.6,"m":1.3},
{"g":"r","o":-8.6,"m":2.1},{"g":"r","o":-6.9,"m":2.4},{"g":"r","o":-5.0,"m":2.0},{"g":"r","o":-3.4,"m":2.5},{"g":"r","o":-2.0,"m":1.9},{"g":"r","o":-0.7,"m":2.3},{"g":"r","o":0.6,"m":2.6},{"g":"r","o":2.0,"m":2.0},{"g":"r","o":3.3,"m":2.4},
{"g":"r","o":-5.9,"m":3.4},{"g":"r","o":-3.8,"m":3.7},{"g":"r","o":-2.4,"m":3.2},{"g":"r","o":-0.9,"m":3.8},{"g":"r","o":0.6,"m":3.3},{"g":"r","o":1.9,"m":3.6},{"g":"r","o":3.0,"m":3.1},{"g":"r","o":4.4,"m":3.5},
{"g":"r","o":-4.6,"m":4.8},{"g":"r","o":-2.0,"m":5.1},{"g":"r","o":-0.4,"m":4.6},{"g":"r","o":1.6,"m":4.9},{"g":"r","o":3.4,"m":4.4},
{"g":"r","o":-3.6,"m":6.0},{"g":"r","o":-0.8,"m":6.3},{"g":"r","o":2.1,"m":5.8},{"g":"r","o":3.7,"m":6.2},
{"g":"r","o":-5.0,"m":7.3},{"g":"r","o":-2.3,"m":8.0},{"g":"r","o":1.8,"m":7.5},{"g":"r","o":-1.0,"m":10.4},{"g":"r","o":3.0,"m":8.6},
{"g":"r","o":-17.5,"m":-11.8},{"g":"r","o":-13.6,"m":-12.3},{"g":"r","o":-3.5,"m":-11.2},{"g":"r","o":-1.2,"m":-9.9},{"g":"r","o":-19.9,"m":-4.2},{"g":"r","o":-17.0,"m":-1.8},{"g":"r","o":-12.0,"m":-0.6},{"g":"r","o":-8.0,"m":-10.9},{"g":"r","o":-11.8,"m":-9.7},{"g":"r","o":-15.6,"m":-8.8},{"g":"r","o":-6.0,"m":-3.2},{"g":"r","o":-9.8,"m":-5.4}
],
"lineP":[{"o":-42.05,"m":-25.55},{"o":12.1,"m":1.5}],
"lineR":[{"o":-42.05,"m":-20.17},{"o":12.1,"m":3.45}],
"diag":[{"o":-42.05,"m":-42.05},{"o":12.1,"m":12.1}]
},
"encoding":{
"x":{"field":"o","type":"quantitative","scale":{"domain":[-42.05,12.1],"nice":false,"zero":false},
"axis":{"title":"Observations (ppb)","values":[-40,-30,-20,-10,0,10],"grid":false,"domain":false,"tickColor":"black","tickSize":13,"tickWidth":1,"labelFont":"Liberation Sans","labelFontSize":19,"labelColor":"black","labelPadding":23,"titleFont":"Liberation Sans","titleFontSize":24,"titleFontWeight":"normal","titleColor":"black","titleX":224.5,"titleY":97,"titleBaseline":"middle","titleAlign":"center"}},
"y":{"field":"m","type":"quantitative","scale":{"domain":[-41.7,11.84],"nice":false,"zero":false},
"axis":{"title":"CMAQ SAPRC (ppb)","values":[-40,-30,-20,-10,0,10],"grid":false,"domain":false,"tickColor":"black","tickSize":13,"tickWidth":1,"labelFont":"Liberation Sans","labelFontSize":19,"labelColor":"black","labelAngle":-90,"labelAlign":"center","labelBaseline":"bottom","labelPadding":18,"titleFont":"Liberation Sans","titleFontSize":24,"titleFontWeight":"normal","titleColor":"black","titleX":-94,"titleY":189,"titleAngle":-90,"titleBaseline":"middle","titleAlign":"center"}}
},
"layer":[
{"data":{"name":"pts"},
 "mark":{"type":"point","shape":"circle","filled":false,"size":84,"strokeWidth":1.5,"opacity":1,"clip":true},
 "encoding":{"color":{"field":"g","type":"nominal","scale":{"domain":["p","r"],"range":["#A020F0","#FF0000"]},"legend":null}}},
{"data":{"name":"keys"},
 "mark":{"type":"point","shape":"square","filled":true,"opacity":0,"stroke":"black","strokeWidth":1},
 "encoding":{"fill":{"field":"g","type":"nominal","scale":{"domain":["p","r"],"range":["#A020F0","#FF0000"]},
  "legend":{"orient":"none","legendX":0,"legendY":0,"title":null,"symbolType":"square","symbolSize":200,"symbolOpacity":1,"symbolStrokeColor":"black","symbolStrokeWidth":1,"labelFont":"Liberation Sans","labelFontSize":20,"labelColor":"black","labelOffset":17,"padding":16,"rowPadding":5,"strokeColor":"black","labelExpr":"datum.value == 'p' ? 'Avg(>=95th%)' : 'median'"}}}},
{"data":{"name":"lineP"},"mark":{"type":"line","color":"#A020F0","strokeWidth":2,"strokeDash":[2,5],"clip":true},"encoding":{}},
{"data":{"name":"lineR"},"mark":{"type":"line","color":"#FF0000","strokeWidth":2,"strokeDash":[2,5],"clip":true},"encoding":{}},
{"data":{"name":"diag"},"mark":{"type":"line","color":"black","strokeWidth":1,"clip":true},"encoding":{}},
{"data":{"values":[{}]},"mark":{"type":"text","text":"residual SE:  5.7","color":"#A020F0","font":"Liberation Sans","fontSize":17,"align":"left","baseline":"middle"},
 "encoding":{"x":{"datum":-7.8,"type":"quantitative"},"y":{"datum":-30.8,"type":"quantitative"}}},
{"data":{"values":[{}]},"mark":{"type":"text","text":"residual SE:  3.2","color":"#FF0000","font":"Liberation Sans","fontSize":17,"align":"left","baseline":"middle"},
 "encoding":{"x":{"datum":-7.8,"type":"quantitative"},"y":{"datum":-34.8,"type":"quantitative"}}}
]
}
